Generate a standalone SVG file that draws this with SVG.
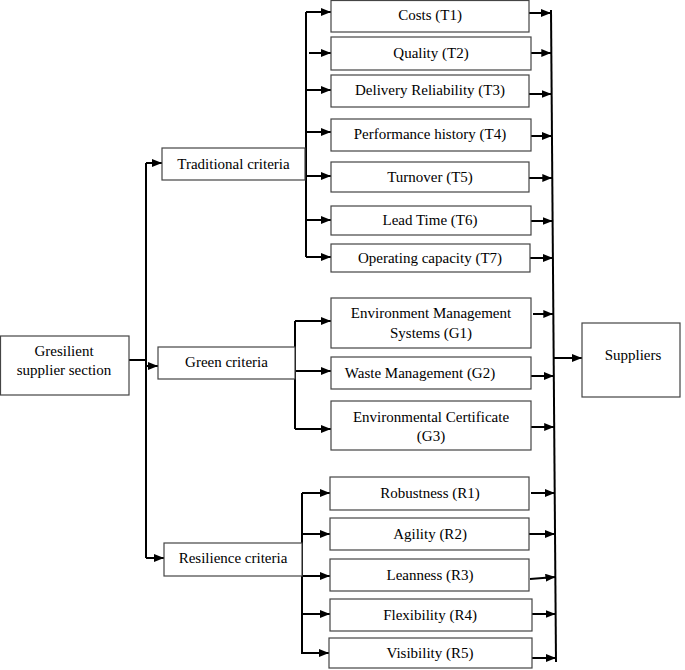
<svg xmlns="http://www.w3.org/2000/svg" width="685" height="670" viewBox="0 0 685 670">
<defs>
<marker id="ah" markerUnits="userSpaceOnUse" markerWidth="10" markerHeight="8" refX="10" refY="4" orient="auto"><path d="M0,0 L10,4 L0,8 z" fill="#000"/></marker>
<style>
.box{fill:#fff;stroke:#444;stroke-width:1.2}
.t{font-family:"Liberation Serif","Times New Roman",serif;font-size:15px;fill:#000;text-anchor:middle}
.c{fill:none;stroke:#000;stroke-width:2}
.a{fill:none;stroke:#000;stroke-width:2;marker-end:url(#ah)}
</style>
</defs>
<rect width="685" height="670" fill="#fff"/>
<g id="connectors">
<path class="c" d="M129,360 H146"/>
<path class="c" d="M146,163 V558"/>
<path class="a" d="M146,163 H162"/>
<path class="a" d="M146,366 H158"/>
<path class="a" d="M146,558 H164"/>
<path class="c" d="M306,12 V257"/>
<path class="a" d="M306,12 H331"/>
<path class="a" d="M309,53 H331"/>
<path class="a" d="M306,90 H331"/>
<path class="a" d="M306,132 H331"/>
<path class="a" d="M306,176 H331"/>
<path class="a" d="M306,220 H331"/>
<path class="a" d="M306,257 H331"/>
<path class="c" d="M295,321 V429"/>
<path class="a" d="M295,321 H331"/>
<path class="a" d="M295,371 H331"/>
<path class="a" d="M295,429 H331"/>
<path class="c" d="M302,493 V654"/>
<path class="a" d="M302,493 H330"/>
<path class="a" d="M302,534 H330"/>
<path class="a" d="M302,576 H330"/>
<path class="a" d="M302,614 H330"/>
<path class="a" d="M302,653 H329"/>
<path class="c" d="M551,10 L556,662" stroke-width="1.5"/>
<path class="a" d="M529,13 H551"/>
<path class="a" d="M531,53 H551.3"/>
<path class="a" d="M529,94 H551.6"/>
<path class="a" d="M531,136 H552"/>
<path class="a" d="M529,178 H552.3"/>
<path class="a" d="M531,221 H552.6"/>
<path class="a" d="M530,258 H553"/>
<path class="a" d="M533,314 H553.3"/>
<path class="a" d="M531,376 H553.8"/>
<path class="a" d="M531,427 H554.2"/>
<path class="a" d="M554,358 H582"/>
<path class="a" d="M531,493 H554.7"/>
<path class="a" d="M529,534 H555"/>
<path class="a" d="M530,579 L555.4,577"/>
<path class="a" d="M532,614 H555.6"/>
<path class="a" d="M532,658 H556"/>
</g>
<g id="gresilient"><rect class="box" x="0.5" y="336" width="128.5" height="59"/><text class="t" x="64" y="356">Gresilient</text><text class="t" x="64" y="375">supplier section</text></g>
<g id="traditional"><rect class="box" x="162" y="148" width="143" height="32"/><text class="t" x="233.5" y="169">Traditional criteria</text></g>
<g id="green"><rect class="box" x="158" y="347" width="137" height="32"/><text class="t" x="226.5" y="367">Green criteria</text></g>
<g id="resilience"><rect class="box" x="164" y="543" width="138" height="33"/><text class="t" x="233" y="563">Resilience criteria</text></g>
<g id="t1"><rect class="box" x="331" y="0.5" width="198" height="31.5"/><text class="t" x="430" y="20">Costs (T1)</text></g>
<g id="t2"><rect class="box" x="331" y="37" width="200" height="33"/><text class="t" x="431" y="58">Quality (T2)</text></g>
<g id="t3"><rect class="box" x="331" y="75" width="198" height="32"/><text class="t" x="430" y="95">Delivery Reliability (T3)</text></g>
<g id="t4"><rect class="box" x="331" y="119" width="200" height="32"/><text class="t" x="430" y="139">Performance history (T4)</text></g>
<g id="t5"><rect class="box" x="331" y="162" width="198" height="30"/><text class="t" x="430" y="182">Turnover (T5)</text></g>
<g id="t6"><rect class="box" x="331" y="206" width="200" height="29"/><text class="t" x="430" y="225">Lead Time (T6)</text></g>
<g id="t7"><rect class="box" x="331" y="244" width="199" height="28"/><text class="t" x="430" y="263">Operating capacity (T7)</text></g>
<g id="g1"><rect class="box" x="331" y="298" width="200" height="50"/><text class="t" x="431" y="318">Environment Management</text><text class="t" x="431" y="338">Systems (G1)</text></g>
<g id="g2"><rect class="box" x="331" y="357" width="200" height="32"/><text class="t" x="420" y="378">Waste Management (G2)</text></g>
<g id="g3"><rect class="box" x="331" y="401" width="200" height="49"/><text class="t" x="431" y="422">Environmental Certificate</text><text class="t" x="431" y="441">(G3)</text></g>
<g id="r1"><rect class="box" x="330" y="477" width="199" height="33"/><text class="t" x="430" y="498">Robustness (R1)</text></g>
<g id="r2"><rect class="box" x="330" y="518" width="199" height="32"/><text class="t" x="430" y="539">Agility (R2)</text></g>
<g id="r3"><rect class="box" x="330" y="559" width="199" height="32"/><text class="t" x="430" y="580">Leanness (R3)</text></g>
<g id="r4"><rect class="box" x="330" y="599" width="202" height="32"/><text class="t" x="430" y="620">Flexibility (R4)</text></g>
<g id="r5"><rect class="box" x="329" y="638" width="203" height="30"/><text class="t" x="430" y="658">Visibility (R5)</text></g>
<g id="suppliers"><rect class="box" x="582" y="323" width="98" height="74"/><text class="t" x="633" y="360">Suppliers</text></g>
</svg>
